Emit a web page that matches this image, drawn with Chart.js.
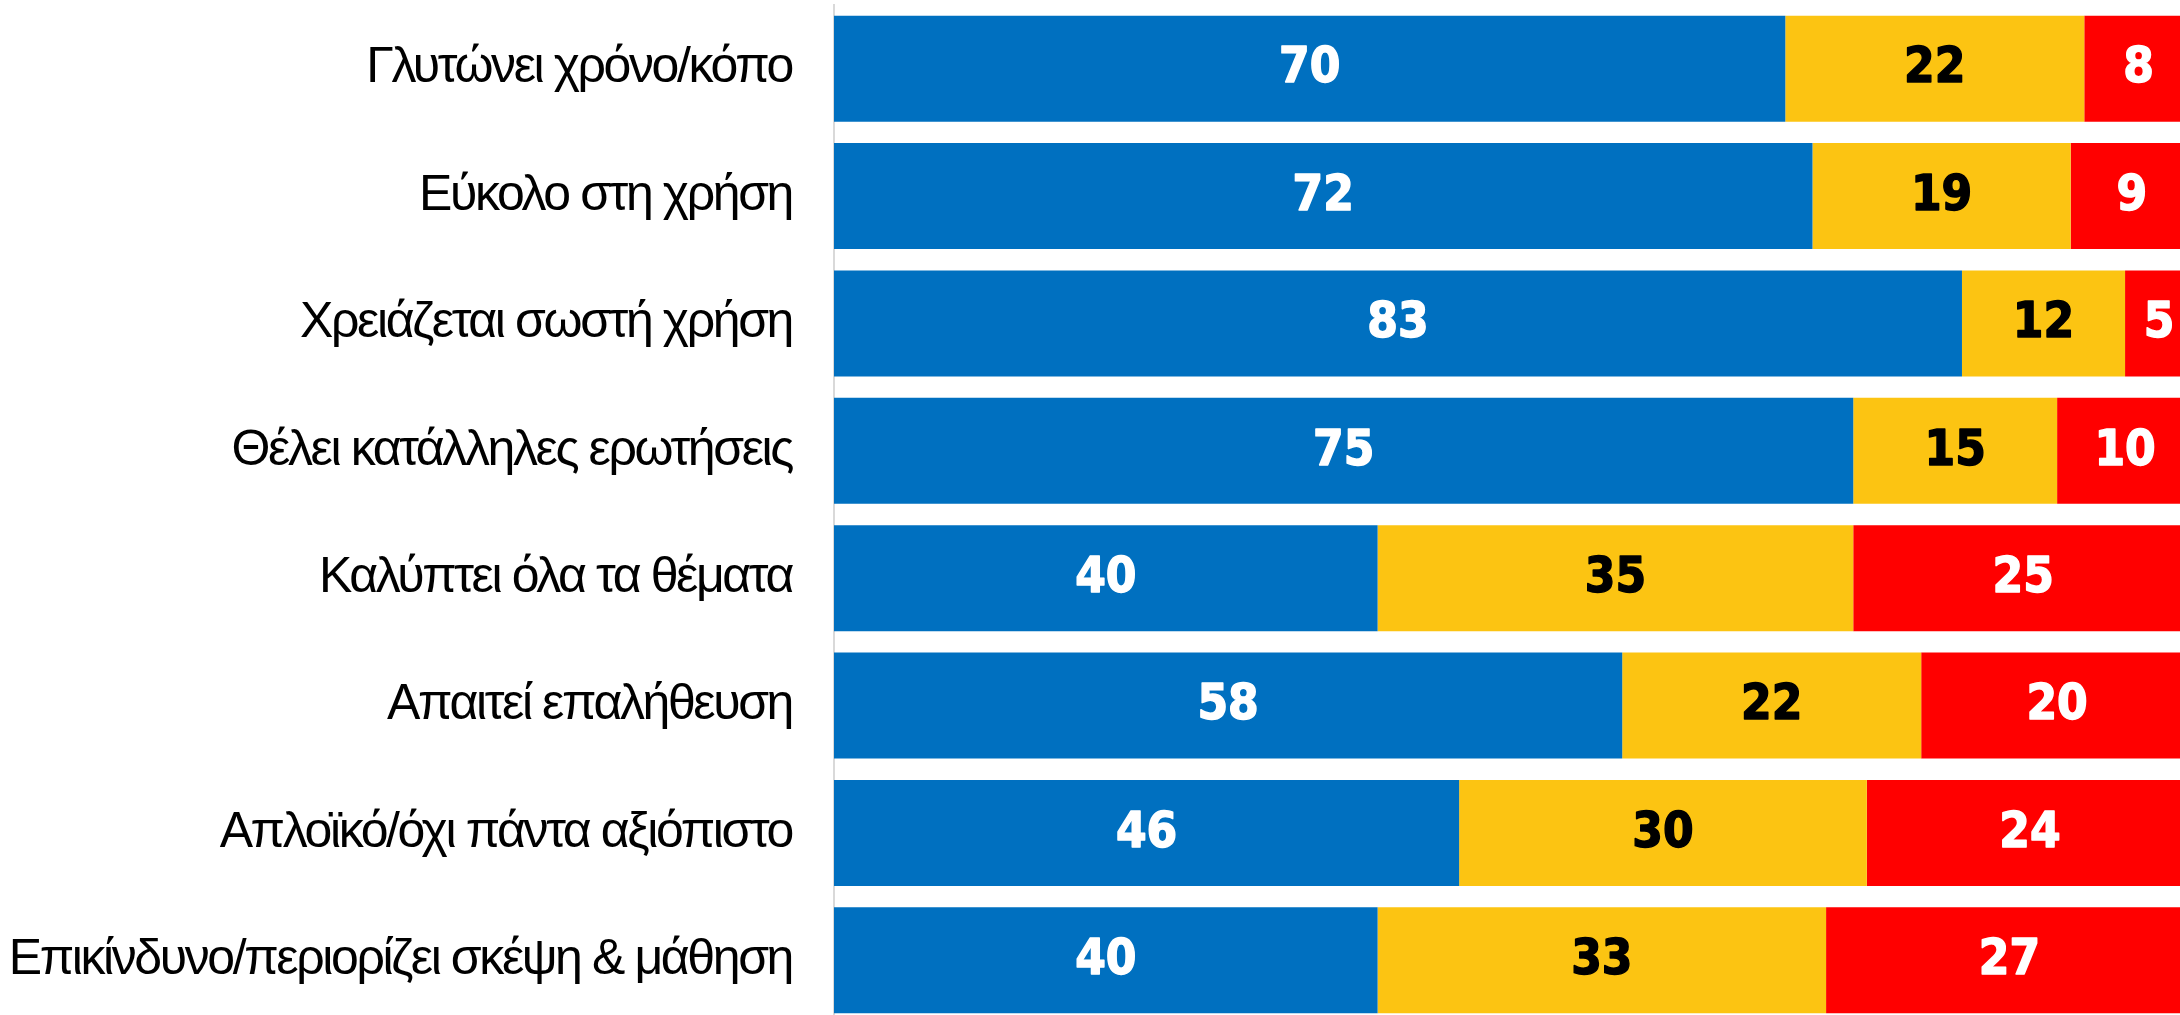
<!DOCTYPE html>
<html>
<head>
<meta charset="utf-8">
<script src="https://cdn.jsdelivr.net/npm/chart.js@4.4.1/dist/chart.umd.min.js"></script>
<style>
    html, body { margin: 0; padding: 0; background: #fff; overflow: hidden; }
    #wrap { width: 2194px; height: 1024px; }
</style>
</head>
<body>
<div id="wrap"><canvas id="chart" width="2194" height="1024"></canvas></div>
<script>
// Data
const categories = [
    'Γλυτώνει χρόνο/κόπο',
    'Εύκολο στη χρήση',
    'Χρειάζεται σωστή χρήση',
    'Θέλει κατάλληλες ερωτήσεις',
    'Καλύπτει όλα τα θέματα',
    'Απαιτεί επαλήθευση',
    'Απλοϊκό/όχι πάντα αξιόπιστο',
    'Επικίνδυνο/περιορίζει σκέψη & μάθηση'
];
const agreeValues   = [70, 72, 83, 75, 40, 58, 46, 40];
const neutralValues = [22, 19, 12, 15, 35, 22, 30, 33];
const disagreeValues = [8, 9, 5, 10, 25, 20, 24, 27];

const seriesNames = ['Συμφωνώ', 'Ουδέτερο', 'Διαφωνώ'];
const seriesColors = ['#0070C0', '#FCC412', '#FF0000'];
const labelColors = ['#FFFFFF', '#000000', '#FFFFFF'];

// Tighter letter spacing for the category labels
const tightTicks = {
    id: 'tightTicks',
    beforeDraw(chart) { chart.ctx.save(); chart.ctx.letterSpacing = '-2.4px'; },
    afterDraw(chart) { chart.ctx.restore(); }
};

// Draws the value in the middle of each bar segment
const segmentLabels = {
    id: 'segmentLabels',
    afterDatasetsDraw(chart) {
        const ctx = chart.ctx;
        ctx.save();
        ctx.letterSpacing = '0px';
        ctx.font = 'bold 49px "DejaVu Sans Condensed", "DejaVu Sans"';
        ctx.textAlign = 'center';
        ctx.textBaseline = 'middle';
        ctx.lineWidth = 1.4;
        ctx.lineJoin = 'round';
        chart.data.datasets.forEach((ds, i) => {
            const meta = chart.getDatasetMeta(i);
            meta.data.forEach((bar, j) => {
                const { x, base, y } = bar.getProps(['x', 'base', 'y'], true);
                ctx.fillStyle = labelColors[i];
                ctx.strokeStyle = labelColors[i];
                ctx.fillText(ds.data[j], (x + base) / 2, y + 1);
                ctx.strokeText(ds.data[j], (x + base) / 2, y + 1);
            });
        });
        ctx.restore();
    }
};

const ctx = document.getElementById('chart').getContext('2d');
new Chart(ctx, {
    type: 'bar',
    data: {
        labels: categories,
        datasets: [agreeValues, neutralValues, disagreeValues].map((vals, i) => ({
            label: seriesNames[i],
            data: vals,
            backgroundColor: seriesColors[i],
            borderWidth: 0,
            categoryPercentage: 1,
            barPercentage: 0.832
        }))
    },
    options: {
        indexAxis: 'y',
        responsive: false,
        animation: false,
        layout: { padding: { top: 5, right: 1, left: 0, bottom: 0 } },
        plugins: {
            legend: { display: false },
            tooltip: { enabled: false }
        },
        scales: {
            x: {
                stacked: true,
                min: 0,
                max: 100,
                display: false
            },
            y: {
                stacked: true,
                grid: { display: false, drawTicks: false },
                border: { display: true, color: '#D9D9D9', width: 2 },
                ticks: {
                    color: '#000000',
                    padding: 42,
                    font: { family: '"Liberation Sans", Arial, sans-serif', size: 50 }
                },
                afterFit(scale) {
                    scale.width = 834;
                    scale.paddingTop = 0;
                    scale.paddingBottom = 0;
                }
            }
        }
    },
    plugins: [tightTicks, segmentLabels]
});
</script>
</body>
</html>
